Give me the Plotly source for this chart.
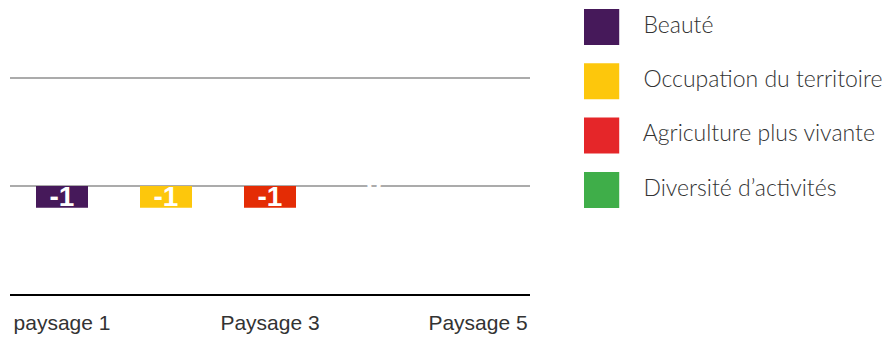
import plotly.graph_objects as go

# données
paysages = ["paysage 1", "Paysage 2", "Paysage 3", "Paysage 4", "Paysage 5"]
series = ["Beauté", "Occupation du territoire", "Agriculture plus vivante", "Diversité d’activités"]
couleurs = ["#46195A", "#FDC70C", "#E42C05", "#3FAE49"]
couleurs_legende = ["#46195A", "#FDC70C", "#E52629", "#3FAE49"]
beaute = [-1, None, None, None, None]
occupation = [None, -1, None, None, None]
agriculture = [None, None, -1, None, None]
diversite = [None, None, None, 0, None]
valeurs = [beaute, occupation, agriculture, diversite]

W, H = 887, 337
L, R, T, B = 10, 0, 0, 43
pw, ph = W - L - R, H - T - B

etiquette = dict(family="Liberation Sans", size=28, color="white", weight="bold")

fig = go.Figure()

for nom, vals, coul in zip(series, valeurs, couleurs):
    fig.add_trace(go.Bar(
        x=paysages, y=vals, name=nom,
        marker=dict(color=coul, line_width=0),
        text=["" if v is None else str(v) for v in vals],
        textposition="inside", insidetextanchor="middle",
        constraintext="none", textangle=0,
        textfont=etiquette,
        showlegend=False,
    ))
    # une barre de hauteur nulle n'affiche pas son texte : on l'ajoute à part
    zeros = [v if v == 0 else None for v in vals]
    if any(z is not None for z in zeros):
        fig.add_trace(go.Scatter(
            x=paysages, y=zeros, mode="text",
            text=["" if z is None else str(z) for z in zeros],
            textposition="middle center", textfont=etiquette,
            showlegend=False, hoverinfo="skip",
        ))

# légende dessinée comme une série de carrés
fig.add_trace(go.Scatter(
    x=[0] * len(series), y=list(range(len(series))),
    mode="markers+text", text=series, texttemplate="   %{text}",
    textposition="middle right",
    marker=dict(symbol="square", size=36, color=couleurs_legende, line_width=0),
    textfont=dict(family="Lato", size=23, color="#333333", weight=300),
    xaxis="x2", yaxis="y2", showlegend=False, hoverinfo="skip",
))

u = 294 / 54.3
fig.update_layout(
    width=W, height=H,
    margin=dict(l=L, r=R, t=T, b=B),
    barmode="relative", bargap=0.5,
    paper_bgcolor="white", plot_bgcolor="white",
    xaxis=dict(
        domain=[0, 520 / pw], type="category",
        tickvals=paysages[::2],
        showline=True, linecolor="black", linewidth=2,
        showgrid=False, ticks="", ticklabelstandoff=9,
        tickfont=dict(family="Liberation Sans", size=21, color="#333333"),
    ),
    yaxis=dict(
        domain=[0, (294 - 77) / ph], range=[-5, 5.05], dtick=5,
        showticklabels=False, showgrid=True, gridcolor="#ABABAB", gridwidth=2,
        zeroline=True, zerolinecolor="#ABABAB", zerolinewidth=2,
    ),
    xaxis2=dict(
        domain=[(584 - L) / pw, 1], range=[-0.5, 8.3], anchor="y2",
        visible=False,
    ),
    yaxis2=dict(
        domain=[0, 1], range=[-0.497 + u, -0.497], anchor="x2",
        visible=False,
    ),
)

fig.write_html("out.html", config={"displayModeBar": False},
               post_script="document.body.style.margin='0';")
